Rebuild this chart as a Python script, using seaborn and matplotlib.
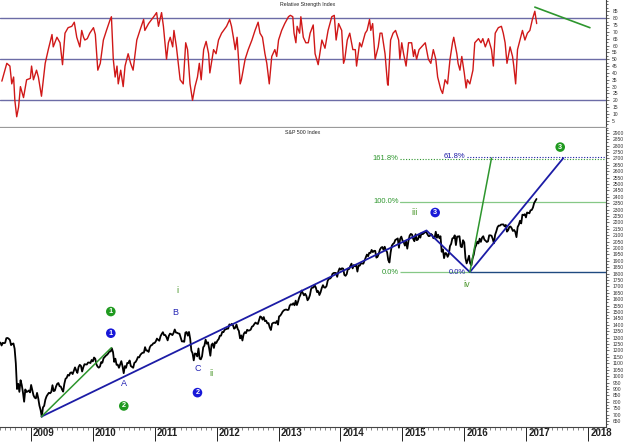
import pandas as pd
import matplotlib
matplotlib.use("Agg")
import matplotlib.pyplot as plt
import matplotlib.transforms as mtransforms
from matplotlib.ticker import MultipleLocator
import seaborn as sns

# weekly S&P 500 closes, first week of July 2008 .. first week of March 2017
spx_close = [
    # 2008 (from Jul 4)
    1262, 1239, 1260, 1257, 1260, 1296, 1298, 1292, 1282, 1242, 1251, 1255, 1213,
    1099, 899, 940, 877, 968, 931, 873, 800, 896, 876, 880, 888, 873,
    # 2009
    931, 890, 850, 832, 826, 869, 827, 770, 735, 683, 756, 768, 816, 842, 857, 870, 866,
    877, 929, 883, 887, 919, 940, 946, 921, 919, 896, 879, 940, 979, 987,
    1010, 1004, 1026, 1029, 1016, 1043, 1068, 1044, 1025, 1071, 1088, 1080, 1036,
    1069, 1093, 1091, 1091, 1106, 1106, 1102, 1126, 1115,
    # 2010
    1145, 1136, 1092, 1074, 1066, 1075, 1109, 1104, 1139, 1150, 1160, 1167,
    1178, 1194, 1192, 1217, 1187, 1111, 1136, 1088, 1089, 1065, 1092, 1117, 1077,
    1023, 1078, 1065, 1103, 1102, 1122, 1079, 1072, 1065, 1104, 1110, 1126, 1149,
    1146, 1165, 1176, 1183, 1183, 1226, 1199, 1200, 1189, 1225, 1240, 1244, 1257, 1258,
    # 2011
    1271, 1293, 1283, 1276, 1311, 1329, 1343, 1320, 1321, 1304, 1279, 1314,
    1332, 1328, 1320, 1337, 1364, 1340, 1338, 1333, 1331, 1300, 1271, 1271, 1268,
    1340, 1344, 1316, 1345, 1292, 1199, 1179, 1123, 1177, 1174, 1154, 1216, 1136, 1131,
    1155, 1225, 1238, 1285, 1253, 1264, 1216, 1159, 1244, 1255, 1220, 1265, 1258,
    # 2012
    1278, 1289, 1315, 1316, 1345, 1343, 1361, 1366, 1370, 1371, 1404, 1397, 1408,
    1398, 1370, 1378, 1403, 1369, 1353, 1295, 1318, 1278, 1326, 1343, 1335, 1362,
    1355, 1357, 1363, 1386, 1391, 1406, 1418, 1411, 1407, 1438, 1466, 1460, 1441,
    1461, 1429, 1433, 1412, 1414, 1380, 1360, 1409, 1416, 1418, 1414, 1430, 1402,
    # 2013
    1466, 1472, 1486, 1503, 1513, 1518, 1520, 1516, 1518, 1551, 1561, 1557, 1569,
    1553, 1589, 1555, 1582, 1614, 1634, 1668, 1650, 1631, 1643, 1627, 1592, 1606,
    1632, 1680, 1692, 1692, 1710, 1691, 1656, 1664, 1633, 1655, 1688, 1710, 1692,
    1691, 1703, 1745, 1760, 1762, 1771, 1798, 1805, 1806, 1805, 1775, 1818, 1841,
    # 2014
    1831, 1842, 1839, 1790, 1783, 1797, 1839, 1836, 1859, 1878, 1841, 1867, 1858,
    1865, 1816, 1865, 1863, 1881, 1879, 1878, 1901, 1924, 1949, 1936, 1963, 1961,
    1985, 1968, 1978, 1978, 1925, 1932, 1955, 1988, 2003, 2008, 1986, 2010, 1983,
    1968, 1906, 1887, 1965, 2018, 2032, 2040, 2064, 2068, 2075, 2002, 2071, 2089,
    # 2015
    2058, 2045, 2019, 2052, 1995, 2055, 2097, 2110, 2105, 2071, 2053, 2108, 2061,
    2067, 2102, 2081, 2118, 2108, 2116, 2123, 2126, 2107, 2093, 2094, 2110, 2102,
    2077, 2077, 2127, 2080, 2104, 2078, 2092, 1971, 1989, 1921, 1961, 1958, 1931,
    1951, 2015, 2033, 2075, 2079, 2099, 2023, 2089, 2090, 2092, 2012, 2006, 2061, 2044,
    # 2016
    1922, 1880, 1907, 1940, 1880, 1865, 1918, 1948, 2000, 2022, 2050, 2036,
    2073, 2048, 2081, 2092, 2065, 2057, 2047, 2052, 2099, 2099, 2096, 2071, 2037,
    2103, 2130, 2162, 2175, 2174, 2183, 2184, 2184, 2169, 2180, 2128, 2139, 2165, 2168,
    2154, 2133, 2141, 2126, 2085, 2164, 2182, 2213, 2192, 2260, 2258, 2264, 2239,
    # 2017
    2277, 2275, 2271, 2295, 2297, 2316, 2351, 2367, 2383,
]
spx_start = "2008-07-04"

# weekly RSI (decimal year, value)
rsi_year = [
    2008.53, 2008.61, 2008.66, 2008.69, 2008.72, 2008.74, 2008.77, 2008.80, 2008.83, 2008.88,
    2008.93, 2008.99, 2009.01, 2009.04, 2009.09, 2009.12, 2009.17, 2009.23, 2009.28, 2009.34,
    2009.36, 2009.42, 2009.47, 2009.51, 2009.55, 2009.60, 2009.66, 2009.70, 2009.74, 2009.79,
    2009.82, 2009.85, 2009.87, 2009.91, 2009.95, 2010.01, 2010.04, 2010.08, 2010.12, 2010.17,
    2010.22, 2010.28, 2010.30, 2010.33, 2010.36, 2010.39, 2010.41, 2010.45, 2010.49, 2010.52,
    2010.57, 2010.61, 2010.65, 2010.71, 2010.76, 2010.82, 2010.84, 2010.90, 2010.95, 2011.00,
    2011.03, 2011.06, 2011.11, 2011.14, 2011.19, 2011.22, 2011.25, 2011.29, 2011.31, 2011.35,
    2011.41, 2011.46, 2011.50, 2011.53, 2011.57, 2011.61, 2011.65, 2011.69, 2011.72, 2011.75,
    2011.79, 2011.83, 2011.87, 2011.89, 2011.95, 2011.99, 2012.03, 2012.08, 2012.16, 2012.21,
    2012.24, 2012.27, 2012.30, 2012.33, 2012.38, 2012.40, 2012.46, 2012.51, 2012.57, 2012.62,
    2012.67, 2012.70, 2012.74, 2012.78, 2012.81, 2012.85, 2012.89, 2012.94, 2012.97, 2013.00,
    2013.05, 2013.10, 2013.16, 2013.19, 2013.23, 2013.25, 2013.28, 2013.30, 2013.34, 2013.36,
    2013.40, 2013.44, 2013.48, 2013.51, 2013.56, 2013.59, 2013.64, 2013.70, 2013.75, 2013.80,
    2013.86, 2013.90, 2013.93, 2013.97, 2014.02, 2014.05, 2014.07, 2014.11, 2014.15, 2014.20,
    2014.24, 2014.26, 2014.31, 2014.34, 2014.40, 2014.43, 2014.47, 2014.49, 2014.52, 2014.56,
    2014.61, 2014.64, 2014.67, 2014.72, 2014.76, 2014.77, 2014.81, 2014.85, 2014.89, 2014.94,
    2014.96, 2014.99, 2015.02, 2015.06, 2015.10, 2015.15, 2015.18, 2015.20, 2015.23, 2015.27,
    2015.31, 2015.37, 2015.42, 2015.46, 2015.50, 2015.54, 2015.57, 2015.62, 2015.65, 2015.69,
    2015.73, 2015.77, 2015.81, 2015.83, 2015.88, 2015.90, 2015.93, 2015.96, 2016.00, 2016.03,
    2016.05, 2016.09, 2016.14, 2016.17, 2016.23, 2016.27, 2016.30, 2016.34, 2016.39, 2016.44,
    2016.47, 2016.50, 2016.55, 2016.60, 2016.63, 2016.66, 2016.69, 2016.74, 2016.78, 2016.80,
    2016.83, 2016.86, 2016.90, 2016.94, 2016.98, 2017.02, 2017.06, 2017.10, 2017.14, 2017.17,
]
rsi_value = [
    34, 47, 45, 32, 37, 20, 8, 15, 30, 22,
    35, 36, 45, 35, 42, 37, 23, 47, 57, 68,
    59, 66, 62, 46, 69, 73, 74, 77, 66, 59,
    71, 66, 64, 65, 69, 73, 68, 42, 47, 64,
    71, 79, 81, 50, 37, 45, 32, 42, 30, 45,
    54, 47, 42, 64, 71, 79, 71, 76, 79, 82,
    84, 74, 84, 74, 50, 62, 66, 59, 71, 59,
    35, 32, 62, 57, 32, 20, 30, 37, 47, 35,
    57, 63, 54, 40, 57, 54, 64, 69, 74, 79,
    74, 66, 57, 66, 32, 35, 50, 57, 64, 71,
    77, 69, 66, 54, 47, 32, 52, 57, 52, 64,
    71, 76, 81, 82, 81, 69, 62, 74, 69, 81,
    66, 62, 62, 69, 75, 54, 46, 64, 58, 71,
    81, 82, 64, 76, 71, 47, 50, 64, 69, 57,
    57, 45, 62, 59, 69, 71, 79, 71, 76, 50,
    59, 69, 69, 54, 32, 31, 64, 69, 71, 64,
    50, 62, 54, 45, 62, 62, 52, 57, 50, 57,
    59, 62, 50, 47, 57, 50, 37, 28, 25, 35,
    32, 50, 62, 66, 54, 47, 42, 52, 40, 29,
    35, 32, 42, 62, 65, 62, 65, 59, 65, 57,
    45, 69, 73, 74, 69, 62, 47, 59, 52, 45,
    32, 57, 64, 71, 64, 69, 71, 79, 85, 76,
]
rsi_levels = [80, 50, 20]
rsi_trend_x = [2017.14, 2018.03]
rsi_trend_y = [88, 73]

# Elliott wave paths (decimal year, index level)
blue_wave_x = [2009.17, 2015.39, 2016.09, 2017.60]
blue_wave_y = [684, 2137, 1812, 2702]
green_wave1_x = [2009.17, 2010.30]
green_wave1_y = [684, 1222]
green_wave3_x = [2016.09, 2016.44]
green_wave3_y = [1812, 2702]

fib_zero = 1810
fib_100 = 2361
fib_1618 = 2695
fib_618 = 2712

# wave labels: (text, year, level, colour key, circled)
wave_labels = [
    ("1", 2010.29, 1504, "green", True),
    ("1", 2010.29, 1335, "blue", True),
    ("2", 2010.50, 767, "green", True),
    ("A", 2010.50, 945, "blue", False),
    ("B", 2011.33, 1496, "blue", False),
    ("i", 2011.36, 1668, "green", False),
    ("C", 2011.70, 1062, "blue", False),
    ("ii", 2011.92, 1023, "green", False),
    ("2", 2011.69, 871, "blue", True),
    ("iii", 2015.20, 2277, "green", False),
    ("3", 2015.53, 2277, "blue", True),
    ("iv", 2016.04, 1712, "green", False),
    ("3", 2017.55, 2788, "green", True),
]

years = list(range(2009, 2019))
price_ticks = list(range(650, 2901, 50))
rsi_ticks = list(range(5, 86, 5))

RED = "#d01818"
NAVY = "#1c1ca6"
GREEN = "#2e962e"
LIGHT_GREEN = "#86c886"
LEVEL = "#6c6ca6"
COLORS = {"green": "#1f9a1f", "blue": "#1818d8"}
TEXT_COLORS = {"green": "#4a962a", "blue": "#2424b4"}

sns.set_style("white")
plt.rcParams["font.family"] = ["Liberation Sans", "DejaVu Sans"]

dates = pd.date_range(spx_start, periods=len(spx_close), freq="W-FRI")
spx = pd.DataFrame({
    "year": dates.year + (dates.dayofyear - 1) / 365.25,
    "close": spx_close,
})
rsi = pd.DataFrame({"year": rsi_year, "rsi": rsi_value})

fig = plt.figure(figsize=(6.28, 4.42), dpi=100)
ax_rsi = fig.add_axes([0.0, 0.711, 0.965, 0.289])
ax = fig.add_axes([0.0, 0.034, 0.965, 0.677])
xlim = (2008.5, 2018.29)

# --- RSI panel
for lvl in rsi_levels:
    ax_rsi.axhline(lvl, color=LEVEL, lw=1.0, zorder=1)
sns.lineplot(data=rsi, x="year", y="rsi", ax=ax_rsi, color=RED, lw=1.0, zorder=3)
sns.lineplot(x=rsi_trend_x, y=rsi_trend_y, ax=ax_rsi, color=GREEN, lw=1.2)
ax_rsi.set_xlim(xlim)
ax_rsi.set_ylim(0, 93.2)
ax_rsi.set_xticks([])
ax_rsi.set_xlabel("")
ax_rsi.set_ylabel("")
ax_rsi.yaxis.tick_right()
ax_rsi.set_yticks(rsi_ticks)
ax_rsi.yaxis.set_minor_locator(MultipleLocator(2.5))
ax_rsi.tick_params(axis="y", which="major", labelsize=3.6, length=2.5, width=0.5,
                   colors="#333333", pad=2)
ax_rsi.tick_params(axis="y", which="minor", length=1.5, width=0.5, colors="#333333")
ax_rsi.text(0.508, 0.965, "Relative Strength Index", transform=ax_rsi.transAxes,
            fontsize=3.8, ha="center", va="center", color="#222222")

# --- price panel
ax.axhline(fib_100, xmin=(2014.96 - xlim[0]) / (xlim[1] - xlim[0]), color=LIGHT_GREEN, lw=0.9)
ax.hlines(fib_zero, 2014.96, 2016.09, color=LIGHT_GREEN, lw=0.9)
ax.hlines(fib_zero, 2016.09, xlim[1], color="#1f4a80", lw=1.0)
ax.hlines(fib_1618, 2014.96, xlim[1], color=GREEN, lw=0.8, linestyles=(0, (1, 1.5)))
ax.hlines(fib_618, 2016.04, xlim[1], color=NAVY, lw=0.8, linestyles=(0, (1, 1.5)))

sns.lineplot(data=spx, x="year", y="close", ax=ax, color="black", lw=1.3, zorder=3)
sns.lineplot(x=blue_wave_x, y=blue_wave_y, ax=ax, color=NAVY, lw=1.3, sort=False, zorder=4)
sns.lineplot(x=green_wave1_x, y=green_wave1_y, ax=ax, color=GREEN, lw=1.1, zorder=4)
sns.lineplot(x=green_wave3_x, y=green_wave3_y, ax=ax, color=GREEN, lw=1.1, zorder=4)

fib_kw = dict(fontsize=5.5, ha="right", va="center")
ax.text(2014.94, fib_1618, "161.8%", color=GREEN, **fib_kw)
ax.text(2014.94, fib_100, "100.0%", color=GREEN, **fib_kw)
ax.text(2014.94, fib_zero, "0.0%", color=GREEN, **fib_kw)
ax.text(2016.02, fib_zero, "0.0%", color=NAVY, **fib_kw)
ax.text(2016.02, fib_618, "61.8%", color=NAVY, **fib_kw)

for txt, x, y, key, circled in wave_labels:
    if circled:
        ax.text(x, y, txt, ha="center", va="center", color="white", fontsize=5.2,
                fontweight="bold", zorder=6,
                bbox=dict(boxstyle="circle,pad=0.18", fc=COLORS[key], ec="none"))
    else:
        ax.text(x, y, txt, ha="center", va="center", color=TEXT_COLORS[key],
                fontsize=6.5, zorder=6)

ax.text(0.50, 0.985, "S&P 500 Index", transform=ax.transAxes, fontsize=3.8,
        ha="center", va="center", color="#222222")

ax.set_xlim(xlim)
ax.set_ylim(603, 2939)
ax.set_xlabel("")
ax.set_ylabel("")
ax.yaxis.tick_right()
ax.set_yticks(price_ticks)
ax.yaxis.set_minor_locator(MultipleLocator(25))
ax.tick_params(axis="y", which="major", labelsize=3.6, length=2.5, width=0.5,
               colors="#333333", pad=2)
ax.tick_params(axis="y", which="minor", length=1.5, width=0.5, colors="#333333")

ax.set_xticks(years)
ax.set_xticklabels([str(y) for y in years])
ax.xaxis.set_minor_locator(MultipleLocator(1 / 12))
ax.tick_params(axis="x", which="major", length=10, width=0.7, pad=-9.5,
               labelsize=7, colors="#222222", bottom=True)
ax.tick_params(axis="x", which="minor", length=2.5, width=0.5, colors="#555555", bottom=True)
shift = mtransforms.ScaledTranslation(1.5 / 72, 0, fig.dpi_scale_trans)
for lab in ax.get_xticklabels():
    lab.set_horizontalalignment("left")
    lab.set_fontweight("bold")
    lab.set_transform(lab.get_transform() + shift)

for a in (ax_rsi, ax):
    a.spines["left"].set_visible(False)
    a.spines["top"].set_visible(False)
    a.spines["right"].set_color("#444444")
    a.spines["right"].set_linewidth(0.8)
ax_rsi.spines["bottom"].set_color("#9a9a9a")
ax_rsi.spines["bottom"].set_linewidth(1.6)
ax.spines["bottom"].set_color("#444444")
ax.spines["bottom"].set_linewidth(0.8)

fig.savefig("out.png", dpi=100)
